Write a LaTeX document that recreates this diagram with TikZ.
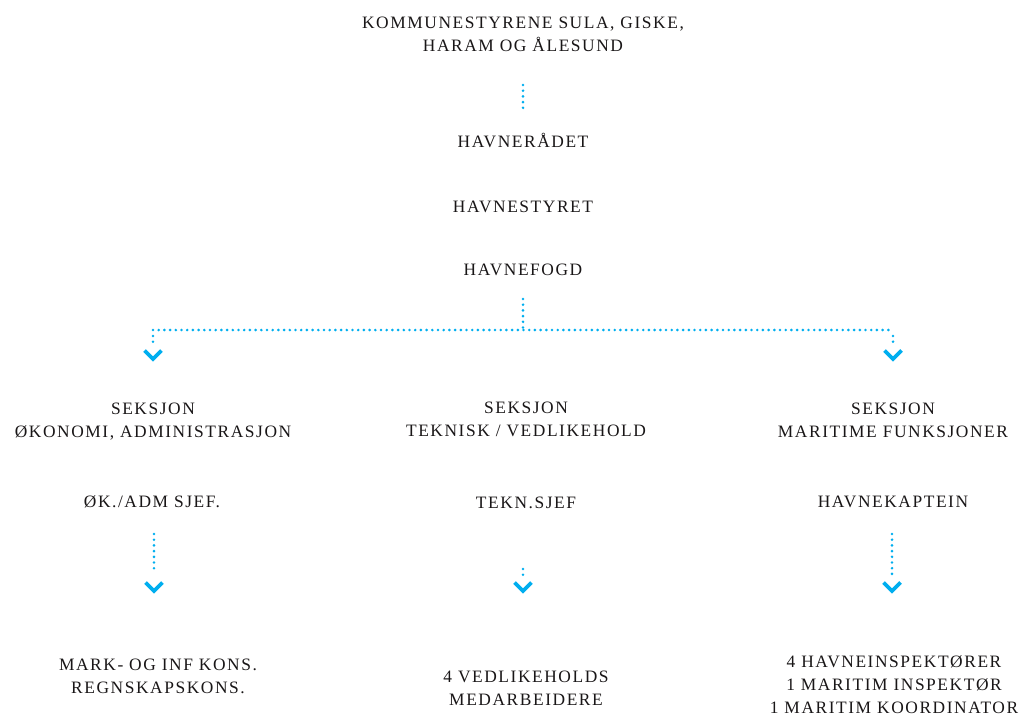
\documentclass[tikz,border=0pt]{standalone}
\usepackage{fontspec}
\setmainfont{Liberation Serif}[LetterSpace=9]
\definecolor{lineblue}{RGB}{0,174,239}
\definecolor{ink}{RGB}{25,22,23}
\newcommand\stack[2]{\begin{tabular}[t]{@{}c@{}}\fontsize{17.4}{#1}\selectfont #2\end{tabular}}
\begin{document}
\begin{tikzpicture}[x=1pt,y=-1pt,
  lbl/.style={anchor=base,inner sep=0pt,text=ink,font=\fontsize{17.4}{23}\selectfont},
  dots/.style={draw=lineblue,line width=2.9pt,line cap=round,dash pattern=on 0pt off 5.7pt},
  chev/.style={draw=lineblue,line width=3.6pt,miter limit=10}]
\useasboundingbox (0,0) rectangle (1023,715);
\renewcommand\arraystretch{1}
\setlength\tabcolsep{0pt}
% nodes
\node[lbl] (top) at (523,28) {\stack{23}{KOMMUNESTYRENE SULA, GISKE,\\HARAM OG ÅLESUND}};
\node[lbl] (radet) at (523,147) {HAVNERÅDET};
\node[lbl] (styret) at (523,212) {HAVNESTYRET};
\node[lbl] (fogd) at (523,275) {HAVNEFOGD};
\node[lbl] (sek1) at (153,414) {\stack{24}{SEKSJON\\ØKONOMI, ADMINISTRASJON}};
\node[lbl] (sek2) at (526,413) {\stack{21}{SEKSJON\\TEKNISK / VEDLIKEHOLD}};
\node[lbl] (sek3) at (893,414) {\stack{23}{SEKSJON\\MARITIME FUNKSJONER}};
\node[lbl] (sjef1) at (152,507) {ØK./ADM SJEF.};
\node[lbl] (sjef2) at (526,508) {TEKN.SJEF};
\node[lbl] (sjef3) at (893,507) {HAVNEKAPTEIN};
\node[lbl] (ans1) at (158,670) {\stack{23}{MARK- OG INF KONS.\\REGNSKAPSKONS.}};
\node[lbl] (ans2) at (526,682) {\stack{21}{4 VEDLIKEHOLDS\\MEDARBEIDERE}};
\node[lbl] (ans3) at (894,667) {\stack{23}{4 HAVNEINSPEKTØRER\\1 MARITIM INSPEKTØR\\1 MARITIM KOORDINATOR}};
% connector points
\coordinate (c0a) at (523,85);  \coordinate (c0b) at (523,108);
\coordinate (f0) at (523,299);  \coordinate (fj) at (523,330);
\coordinate (fl) at (153,330);  \coordinate (fr) at (893,330);
\coordinate (fl1) at (153,336); \coordinate (fl2) at (153,346); \coordinate (tl) at (153,359);
\coordinate (fr1) at (893,336); \coordinate (fr2) at (893,346); \coordinate (tr) at (893,359);
\coordinate (l1) at (154,534); \coordinate (l2) at (154,573); \coordinate (tl2) at (154,591);
\coordinate (m1) at (523,569); \coordinate (m2) at (523,579); \coordinate (tm2) at (523,591);
\coordinate (r1) at (892,534); \coordinate (r2) at (892,579); \coordinate (tr2) at (892,591);
% connectors
\draw[dots] (c0a) -- (c0b);
\draw[dots] (f0) -- (fj);
\draw[dots] (fl) -- (fr);
\draw[dots] (fl1) -- (fl2);
\draw[dots] (fr1) -- (fr2);
\draw[dots] (l1) -- (l2);
\draw[dots] (m1) -- (m2);
\draw[dots] (r1) -- (r2);
\foreach \t in {tl,tr,tl2,tm2,tr2}
  \draw[chev] ([shift={(-8.5,-8.5)}]\t) -- (\t) -- ([shift={(8.5,-8.5)}]\t);
\end{tikzpicture}
\end{document}
